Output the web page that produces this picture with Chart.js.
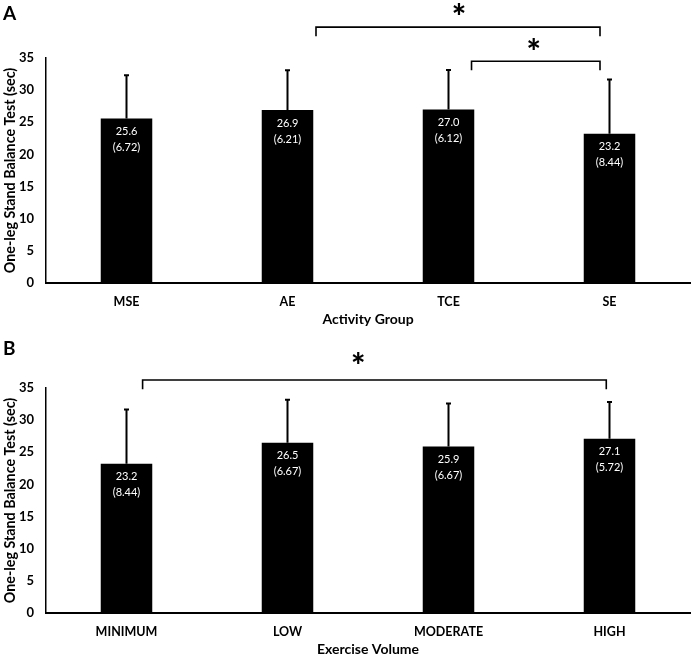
<!DOCTYPE html>
<html>
<head>
<meta charset="utf-8">
<script src="https://cdn.jsdelivr.net/npm/chart.js@4.4.1/dist/chart.umd.min.js"></script>
<style>
  html, body { margin: 0; padding: 0; background: #fff; }
  .panel { position: absolute; left: 0; width: 692px; }
  #panelA { top: 0; height: 330px; }
  #panelB { top: 330px; height: 328px; }
</style>
</head>
<body>
<div class="panel" id="panelA"><canvas id="chartA"></canvas></div>
<div class="panel" id="panelB"><canvas id="chartB"></canvas></div>
<script>
// Panel A - activity group
const groupLabels = ['MSE', 'AE', 'TCE', 'SE'];
const groupMeans = [25.6, 26.9, 27.0, 23.2];
const groupSD = [6.72, 6.21, 6.12, 8.44];

// Panel B - exercise volume
const volumeLabels = ['MINIMUM', 'LOW', 'MODERATE', 'HIGH'];
const volumeMeans = [23.2, 26.5, 25.9, 27.1];
const volumeSD = [8.44, 6.67, 6.67, 5.72];

// significant pairwise comparisons (category indexes)
const groupPairs = [[1, 3], [2, 3]];
const volumePairs = [[0, 3]];

const FONT = 'Lato, "Open Sans", sans-serif';

// where the brackets sit (category-width shifts, y in axis units)
const groupBracketStyle = [
  { fromShift: 0.177, toShift: -0.059, level: 39.8, foot: 38.4, starX: 2.065, starY: 42.6 },
  { fromShift: 0.143, toShift: -0.059, level: 34.5, foot: 33.1, starX: 2.53, starY: 37.2 }
];
const volumeBracketStyle = [
  { fromShift: 0.1, toShift: -0.02, level: 36.25, foot: 34.8, starX: 1.44, starY: 39.7 }
];

const barExtras = {
  id: 'barExtras',
  afterDatasetsDraw(chart, args, opts) {
    const ctx = chart.ctx;
    const xs = chart.scales.x, ys = chart.scales.y;
    const ds = chart.data.datasets[0];
    const meta = chart.getDatasetMeta(0);
    ctx.save();

    // error bars (mean + SD) and value labels
    meta.data.forEach((bar, i) => {
      const top = ys.getPixelForValue(ds.data[i] + opts.sd[i]);
      ctx.strokeStyle = '#000';
      ctx.lineWidth = 2;
      ctx.beginPath();
      ctx.moveTo(bar.x, bar.y);
      ctx.lineTo(bar.x, top);
      ctx.moveTo(bar.x - 2.5, top);
      ctx.lineTo(bar.x + 2.5, top);
      ctx.stroke();

      ctx.fillStyle = '#fff';
      ctx.font = '11px ' + FONT;
      ctx.textAlign = 'center';
      ctx.textBaseline = 'middle';
      ctx.fillText(ds.data[i].toFixed(1), bar.x, bar.y + 13);
      ctx.fillText('(' + opts.sd[i].toFixed(2) + ')', bar.x, bar.y + 29);
    });

    // significance brackets
    const step = xs.getPixelForValue(1) - xs.getPixelForValue(0);
    opts.pairs.forEach((p, k) => {
      const st = opts.bracketStyle[k];
      const x1 = xs.getPixelForValue(p[0]) + st.fromShift * step;
      const x2 = xs.getPixelForValue(p[1]) + st.toShift * step;
      const yl = ys.getPixelForValue(st.level);
      const yf = ys.getPixelForValue(st.foot);
      ctx.strokeStyle = '#000';
      ctx.lineWidth = 1.6;
      ctx.beginPath();
      ctx.moveTo(x1, yf);
      ctx.lineTo(x1, yl);
      ctx.lineTo(x2, yl);
      ctx.lineTo(x2, yf);
      ctx.stroke();

      ctx.fillStyle = '#000';
      ctx.font = '900 34px ' + FONT;
      ctx.textAlign = 'center';
      ctx.textBaseline = 'alphabetic';
      const m = ctx.measureText('*');
      const sx = xs.getPixelForValue(0) + st.starX * step;
      const sy = ys.getPixelForValue(st.starY);
      ctx.fillText('*', sx, sy + (m.actualBoundingBoxAscent - m.actualBoundingBoxDescent) / 2);
    });

    // panel letter
    ctx.fillStyle = '#000';
    ctx.font = 'bold 19px ' + FONT;
    ctx.textAlign = 'left';
    ctx.textBaseline = 'alphabetic';
    ctx.fillText(opts.letter, 3, opts.letterBase);
    ctx.restore();
  }
};

function makeChart(canvasId, labels, means, sd, pairs, bracketStyle, letter, letterBase, xTitle, bottomPad) {
  const ctx = document.getElementById(canvasId).getContext('2d');
  return new Chart(ctx, {
    type: 'bar',
    data: {
      labels: labels,
      datasets: [{
        data: means,
        backgroundColor: '#000',
        borderWidth: 0,
        barPercentage: 0.32,
        categoryPercentage: 1
      }]
    },
    options: {
      responsive: true,
      maintainAspectRatio: false,
      animation: false,
      layout: { padding: { top: 58, right: 2, left: 0, bottom: bottomPad } },
      plugins: {
        legend: { display: false },
        tooltip: { enabled: false },
        barExtras: {
          sd: sd, pairs: pairs, bracketStyle: bracketStyle,
          letter: letter, letterBase: letterBase
        }
      },
      scales: {
        x: {
          grid: { display: false, drawTicks: false },
          border: { color: '#000', width: 2 },
          ticks: { color: '#000', font: { family: FONT, size: 12.5, weight: 'bold' }, padding: 11 },
          title: {
            display: true, text: xTitle, color: '#000',
            font: { family: FONT, size: 14, weight: 'bold' }, padding: 0
          },
          afterFit(s) { s.height = 45; }
        },
        y: {
          min: 0,
          max: 35,
          grid: { display: false, drawTicks: false },
          border: { color: '#000', width: 1.5 },
          ticks: { stepSize: 5, color: '#000', font: { family: FONT, size: 13, weight: 'bold' }, padding: 12 },
          title: {
            display: true, text: 'One-leg Stand Balance Test (sec)', color: '#000',
            font: { family: FONT, size: 14.3, weight: 'bold' }, padding: { top: 2, bottom: 0 }
          },
          afterFit(s) { s.width = 46; }
        }
      }
    },
    plugins: [barExtras]
  });
}

const chartA = makeChart('chartA', groupLabels, groupMeans, groupSD, groupPairs, groupBracketStyle,
  'A', 20, 'Activity Group', 2);
const chartB = makeChart('chartB', volumeLabels, volumeMeans, volumeSD, volumePairs, volumeBracketStyle,
  'B', 25, 'Exercise Volume', 0);
</script>
</body>
</html>
